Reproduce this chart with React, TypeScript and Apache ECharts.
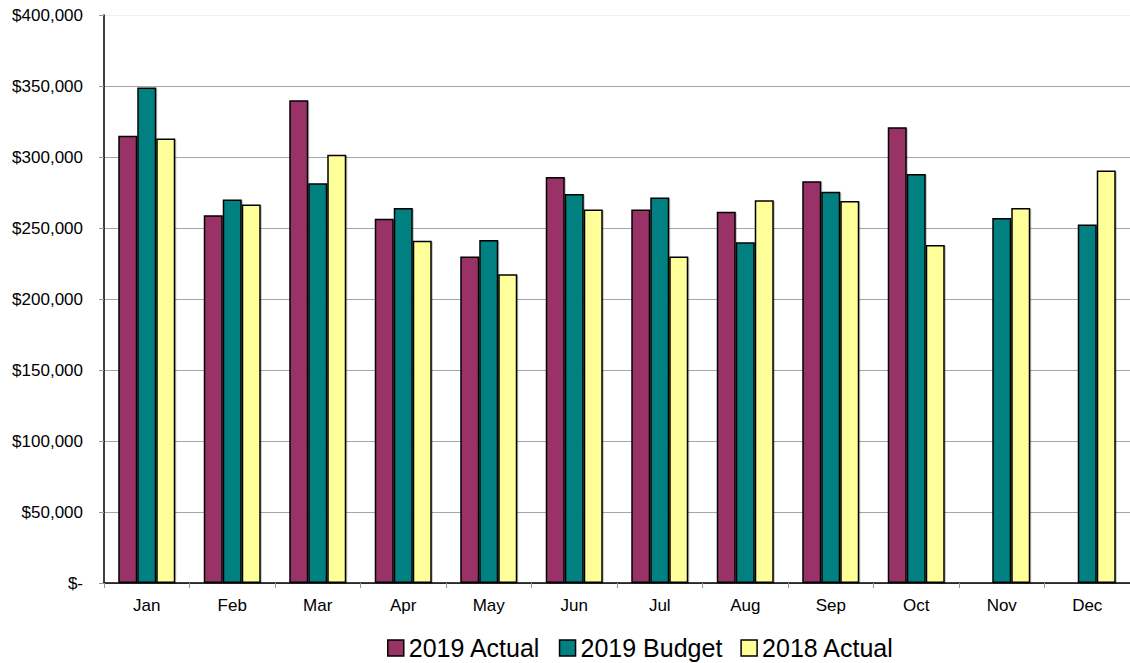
import React, { useEffect, useRef } from "react";
import * as echarts from "echarts";

const months = ["Jan", "Feb", "Mar", "Apr", "May", "Jun", "Jul", "Aug", "Sep", "Oct", "Nov", "Dec"];
const actual2019 = [315000, 259000, 340000, 256500, 230000, 286000, 263000, 261500, 283000, 321000, null, null];
const budget2019 = [349000, 270000, 281500, 264000, 241500, 274000, 271500, 240000, 275500, 288000, 257000, 252500];
const actual2018 = [313000, 266500, 301500, 241000, 217500, 263000, 230000, 269500, 269000, 238000, 264000, 290500];
const yTicks = { min: 0, max: 400000, interval: 50000 };

const FONT = "'Liberation Sans', Arial, sans-serif";

export default function App() {
  const ref = useRef<HTMLDivElement>(null);
  useEffect(() => {
    if (!ref.current) return;
    const chart = echarts.init(ref.current, null, { renderer: "svg" });
    const barStyle = (color: string) => ({
      color,
      borderColor: "#000",
      borderWidth: 1.5,
      shadowColor: "rgba(0,0,0,0.25)",
      shadowOffsetX: 1,
      shadowOffsetY: 1,
      shadowBlur: 1,
    });
    const gridColors = ["#a6a6a6", "#a6a6a6", "#a6a6a6", "#a6a6a6", "#a6a6a6", "#a6a6a6", "#a6a6a6", "#a6a6a6", "#efefef"];
    chart.setOption({
      animation: false,
      textStyle: { fontFamily: FONT },
      grid: { left: 104, top: 15, width: 1035, height: 568, containLabel: false },
      legend: {
        left: 387,
        top: 634,
        icon: "rect",
        itemWidth: 16,
        itemHeight: 16,
        itemGap: 18,
        padding: 0,
        itemStyle: { borderColor: "#000", borderWidth: 1.5 },
        textStyle: { fontSize: 25, lineHeight: 28, color: "#000", fontFamily: FONT },
        data: ["2019 Actual", "2019 Budget", "2018 Actual"],
      },
      xAxis: {
        type: "category",
        data: months,
        boundaryGap: true,
        axisLine: { show: true, lineStyle: { color: "#000", width: 1.5 } },
        axisTick: { show: true, length: 5, lineStyle: { color: "#999" } },
        axisLabel: { color: "#000", fontSize: 17, margin: 14, fontFamily: FONT },
        splitLine: { show: false },
      },
      yAxis: {
        type: "value",
        min: yTicks.min,
        max: yTicks.max,
        interval: yTicks.interval,
        axisLine: { show: true, lineStyle: { color: "#000", width: 1.5 } },
        axisTick: { show: true, length: 5, lineStyle: { color: "#999" } },
        axisLabel: {
          color: "#000",
          fontSize: 17,
          margin: 21,
          fontFamily: FONT,
          formatter: (v: number) => (v === 0 ? "$-" : "$" + v.toLocaleString("en-US")),
        },
        splitLine: { show: true, lineStyle: { color: gridColors, width: 1 } },
      },
      series: [
        { name: "2019 Actual", type: "bar", data: actual2019, barWidth: 19, barGap: "0%", itemStyle: barStyle("#993366") },
        { name: "2019 Budget", type: "bar", data: budget2019, barWidth: 19, barGap: "0%", itemStyle: barStyle("#008080") },
        { name: "2018 Actual", type: "bar", data: actual2018, barWidth: 19, barGap: "0%", itemStyle: barStyle("#FFFF99") },
      ],
    });
    return () => chart.dispose();
  }, []);
  return <div ref={ref} style={{ position: "absolute", left: 0, top: 0, width: 1130, height: 663 }} />;
}
